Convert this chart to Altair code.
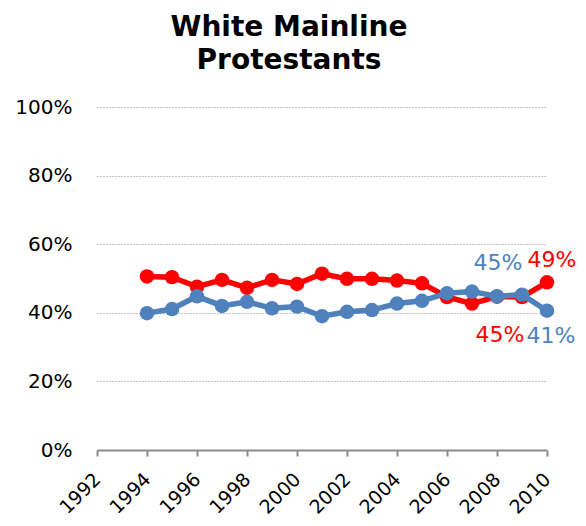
import altair as alt
import pandas as pd

years = list(range(1994, 2011))
red_vals = [50.6, 50.4, 47.6, 49.6, 47.3, 49.6, 48.4, 51.4, 49.9, 49.9, 49.4, 48.6, 44.6, 42.7, 44.7, 44.6, 48.9]
blue_vals = [39.9, 41.1, 44.8, 42.0, 43.2, 41.3, 41.8, 39.0, 40.3, 40.8, 42.7, 43.5, 45.7, 46.2, 44.8, 45.3, 40.6]
x_ticks = list(range(1992, 2011, 2))
y_ticks = [0, 20, 40, 60, 80, 100]

RED = "#FF0000"
BLUE = "#4F81BD"
FONT = "DejaVu Sans"

red_df = pd.DataFrame({"year": years, "value": red_vals})
blue_df = pd.DataFrame({"year": years, "value": blue_vals})

x_enc = alt.X("year:Q", scale=alt.Scale(domain=[1992, 2010], nice=False, zero=False),
              axis=alt.Axis(values=x_ticks, format="d", title=None, grid=False,
                            labelAngle=-45, labelAlign="right", labelBaseline="middle",
                            labelFontSize=19, labelFont=FONT, labelColor="#000000",
                            labelPadding=20, tickSize=6, tickColor="#8c8c8c", tickWidth=2,
                            domainColor="#8c8c8c", domainWidth=2, labelOverlap=False))
y_enc = alt.Y("value:Q", scale=alt.Scale(domain=[0, 100], nice=False),
              axis=alt.Axis(values=y_ticks, labelExpr="datum.value + '%'", title=None,
                            grid=True, gridColor="#8a8a8a", gridDash=[1, 2], gridWidth=1,
                            domain=False, ticks=False, labelFontSize=20, labelFont=FONT,
                            labelColor="#000000", labelPadding=25))


def series(df, color):
    line = alt.Chart(df).mark_line(color=color, strokeWidth=5.5).encode(x=x_enc, y=y_enc)
    pts = alt.Chart(df).mark_circle(color=color, size=210, opacity=1).encode(x=x_enc, y=y_enc)
    return line + pts


def label(df, yr, color, dx, dy):
    d = df[df["year"] == yr].copy()
    d["text"] = d["value"].round(0).astype(int).astype(str) + "%"
    return alt.Chart(d).mark_text(color=color, fontSize=22, font=FONT, dx=dx, dy=dy).encode(
        x=x_enc, y=y_enc, text="text:N")


chart = alt.layer(
    series(red_df, RED),
    series(blue_df, BLUE),
    label(blue_df, 2008, BLUE, 1, -33),
    label(red_df, 2008, RED, 3, 38),
    label(red_df, 2010, RED, 5, -22),
    label(blue_df, 2010, BLUE, 4, 25),
).properties(
    width=450,
    height=343,
    title=alt.TitleParams(text=["White Mainline", "Protestants"], font=FONT, fontSize=28,
                          fontWeight="bold", color="#000000", anchor="middle", dx=-33,
                          offset=22, lineHeight=33),
    autosize=alt.AutoSizeParams(type="none"),
    padding={"left": 89, "top": 99, "right": 31, "bottom": 68},
).configure_view(stroke=None)

chart.save("out.html", embed_options={"renderer": "svg", "actions": False})
